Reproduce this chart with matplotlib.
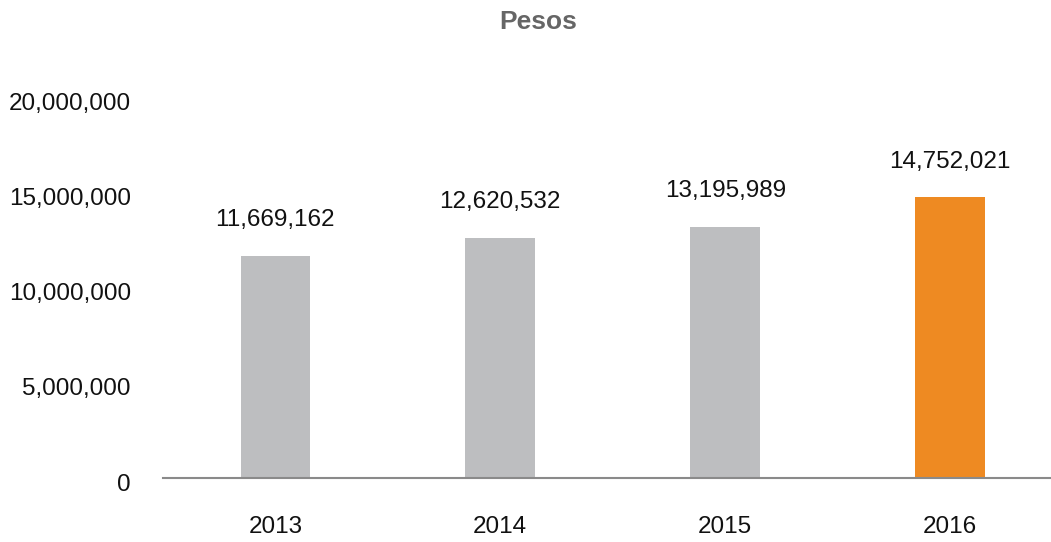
import numpy             as np
import matplotlib
matplotlib.use('Agg')
import matplotlib.pyplot    as plt
import matplotlib.transforms as mtransforms
from matplotlib.ticker import FuncFormatter

plt.rcParams['font.family'] = ['Liberation Sans', 'DejaVu Sans']

years  = ['2013', '2014', '2015', '2016']
values = [11669162, 12620532, 13195989, 14752021]
colors = ['#BDBEC0', '#BDBEC0', '#BDBEC0', '#EE8A22']
yticks = [0, 5000000, 10000000, 15000000, 20000000]

fig = plt.figure(figsize=(10.51, 5.42), dpi=100)
ax  = fig.add_axes([0.155, 0.118, 0.856, 0.703])

x = np.arange(len(years))
ax.bar(x, values, width=0.31, color=colors, zorder=2)

for xi, v in zip(x, values):
    ax.annotate(f'{v:,}', (xi, v), xytext=(0, 17.5), textcoords='offset points',
                ha='center', va='bottom', fontsize=17.5, color='#111111')

ax.set_xlim(-0.5, 3.5)
ax.set_ylim(0, 20000000)
ax.set_xticks(x)
ax.set_xticklabels(years)
ax.set_yticks(yticks)
ax.yaxis.set_major_formatter(FuncFormatter(lambda v, p: f'{int(v):,}'))
ax.tick_params(axis='both', length=0, labelsize=17.5, colors='#111111')
ax.tick_params(axis='x', pad=27)
ax.tick_params(axis='y', pad=23)

# y labels sit a little low in the original
shift = mtransforms.ScaledTranslation(0, -4/100, fig.dpi_scale_trans)
for lab in ax.get_yticklabels():
    lab.set_transform(lab.get_transform() + shift)

for s in ['top', 'right', 'left']:
    ax.spines[s].set_visible(False)
ax.spines['bottom'].set_color('#8a8a8a')
ax.spines['bottom'].set_linewidth(1.5)

fig.text(0.512, 0.96, 'Pesos', ha='center', va='center', fontsize=19,
         fontweight='bold', color='#666666')

fig.savefig('out.png', dpi=100)
